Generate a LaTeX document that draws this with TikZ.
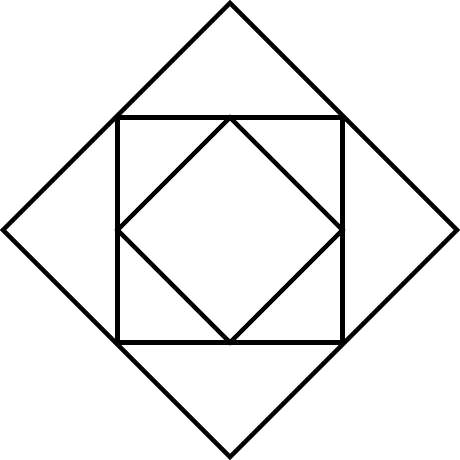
\documentclass[tikz,border=0pt]{standalone}
\usetikzlibrary{positioning}

\begin{document}
\begin{tikzpicture}[x=1pt,y=1pt,line width=4.3pt,line join=miter]
  \useasboundingbox (0,0) rectangle (460,460);
% Outer diamond
  \coordinate (c) at (230,230);
  \draw (c) +(0,227) -- +(227,0) -- +(0,-227) -- +(-227,0) -- cycle;
% Square
  \draw (c) +(-112.5,-112.5) rectangle +(112.5,112.5);
% Inner diamond
  \draw (c) +(0,112.5) -- +(112.5,0) -- +(0,-112.5) -- +(-112.5,0) -- cycle;
\end{tikzpicture}
\end{document}
